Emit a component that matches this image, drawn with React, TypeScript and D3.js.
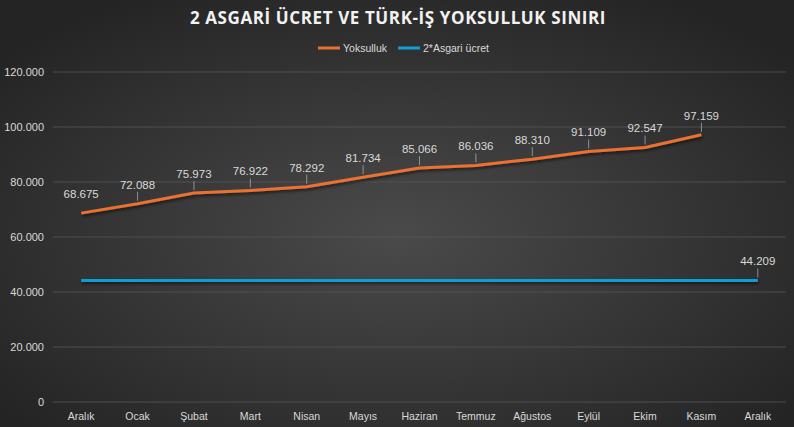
import React from "react";
import * as d3 from "d3";

const categories = ["Aralık", "Ocak", "Şubat", "Mart", "Nisan", "Mayıs", "Haziran", "Temmuz", "Ağustos", "Eylül", "Ekim", "Kasım", "Aralık"];
const yoksulluk = [68675, 72088, 75973, 76922, 78292, 81734, 85066, 86036, 88310, 91109, 92547, 97159];
const asgari2 = [44209, 44209, 44209, 44209, 44209, 44209, 44209, 44209, 44209, 44209, 44209, 44209, 44209];
const yTicks = [0, 20000, 40000, 60000, 80000, 100000, 120000];

const W = 794, H = 427;
const fmt = (v: number) => (v === 0 ? "0" : d3.format(",")(v).replace(/,/g, "."));

export default function App() {
  const idx = categories.map((_, i) => String(i));
  const x = d3.scaleBand().domain(idx).range([53, 786]);
  const y = d3.scaleLinear().domain([0, 120000]).range([402, 72]);
  const cx = (i: number) => (x(String(i)) as number) + x.bandwidth() / 2;
  const line = d3.line<number>().x((_, i) => cx(i)).y((d) => y(d));
  const ORANGE = "#E97132";
  const BLUE = "#0F9ED5";
  const TXT = "#d9d9d9";
  const font = "'Liberation Sans', Arial, sans-serif";

  const labelOf = (v: number, i: number, key: string, leader: boolean) => {
    const px = cx(i), py = y(v);
    return (
      <g key={key}>
        {leader && <line x1={px} x2={px} y1={py - 12} y2={py - 3} stroke="#a6a6a6" strokeWidth={0.8} />}
        <text x={px} y={py - 15} textAnchor="middle" fill={TXT} fontSize={11.5} fontFamily={font}>{fmt(v)}</text>
      </g>
    );
  };

  return (
    <svg width={W} height={H} style={{ position: "absolute", left: 0, top: 0, display: "block" }}>
      <defs>
        <radialGradient id="bg" cx="50%" cy="55%" r="65%">
          <stop offset="0%" stopColor="#4a4a4a" />
          <stop offset="100%" stopColor="#242424" />
        </radialGradient>
        <filter id="sh" filterUnits="userSpaceOnUse" x="0" y="0" width={W} height={H}>
          <feDropShadow dx="1" dy="2" stdDeviation="1.5" floodColor="#000" floodOpacity="0.55" />
        </filter>
      </defs>
      <rect width={W} height={H} fill="url(#bg)" />
      <text x={398} y={24} textAnchor="middle" fill="#f2f2f2" fontSize={17} fontWeight="bold" letterSpacing={0.6} fontFamily="'Open Sans', sans-serif">2 ASGARİ ÜCRET VE TÜRK-İŞ YOKSULLUK SINIRI</text>
      {/* legend */}
      <line x1={318} x2={340} y1={48} y2={48} stroke={ORANGE} strokeWidth={3} />
      <text x={343} y={52} fill={TXT} fontSize={10.5} fontFamily={font}>Yoksulluk</text>
      <line x1={398} x2={420} y1={48} y2={48} stroke={BLUE} strokeWidth={3} />
      <text x={423} y={52} fill={TXT} fontSize={10.5} fontFamily={font}>2*Asgari ücret</text>
      {/* grid */}
      {yTicks.map((t) => (
        <g key={t}>
          <line x1={53} x2={786} y1={y(t)} y2={y(t)} stroke="#555555" strokeWidth={0.8} />
          <text x={44} y={y(t) + 4} textAnchor="end" fill={TXT} fontSize={11} fontFamily={font}>{fmt(t)}</text>
        </g>
      ))}
      {categories.map((c, i) => (
        <text key={i} x={cx(i)} y={420} textAnchor="middle" fill={TXT} fontSize={10.5} fontFamily={font}>{c}</text>
      ))}
      <path d={line(asgari2) as string} fill="none" stroke={BLUE} strokeWidth={3} filter="url(#sh)" strokeLinejoin="round" />
      <path d={line(yoksulluk) as string} fill="none" stroke={ORANGE} strokeWidth={3} filter="url(#sh)" strokeLinejoin="round" />
      {yoksulluk.map((v, i) => labelOf(v, i, "o" + i, i !== 0))}
      {labelOf(asgari2[asgari2.length - 1], asgari2.length - 1, "b", true)}
    </svg>
  );
}
